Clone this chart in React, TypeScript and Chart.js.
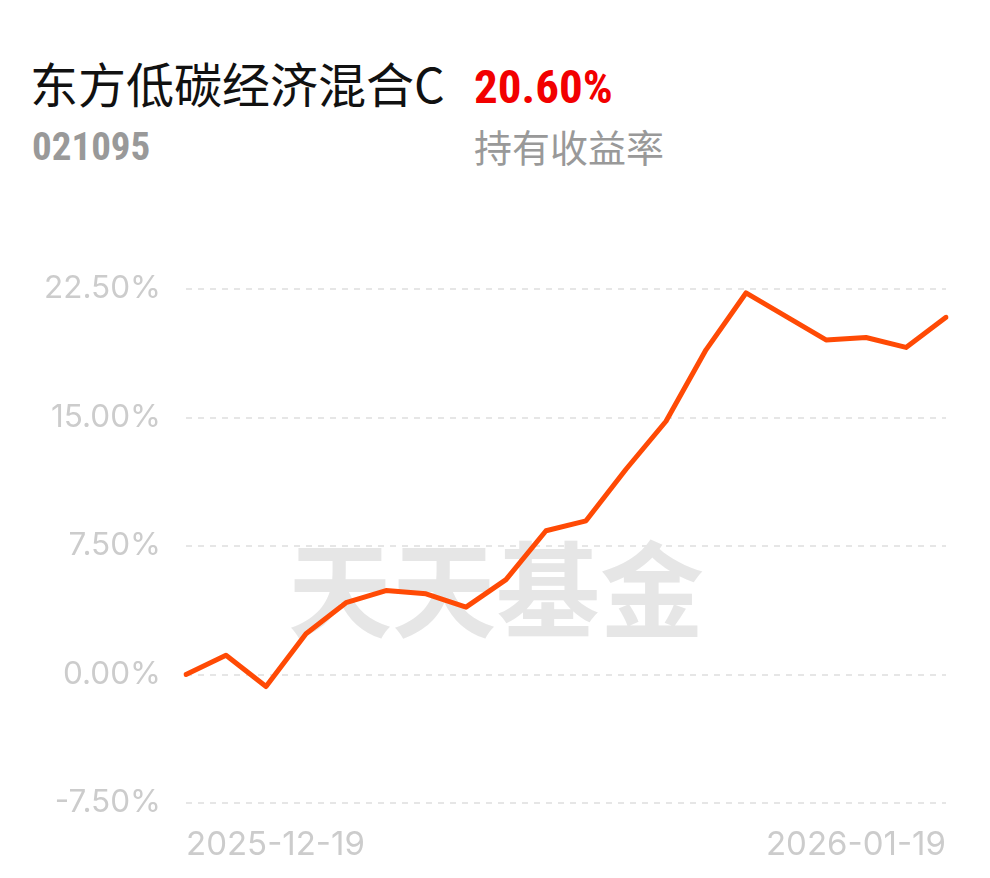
import React, { useEffect, useRef } from "react";
import { Chart, registerables } from "chart.js";

Chart.register(...registerables);

const fundName = "东方低碳经济混合C";
const fundCode = "021095";
const holdReturn = "20.60%";
const holdLabel = "持有收益率";
const watermarkText = "天天基金";

const dates = [
  "2025-12-19", "2025-12-22", "2025-12-23", "2025-12-24", "2025-12-25",
  "2025-12-26", "2025-12-29", "2025-12-30", "2025-12-31", "2026-01-05",
  "2026-01-06", "2026-01-07", "2026-01-08", "2026-01-09", "2026-01-12",
  "2026-01-13", "2026-01-14", "2026-01-15", "2026-01-16", "2026-01-19",
];

const returns = [
  0.0, 1.12, -0.7, 2.38, 4.19, 4.9, 4.71, 3.93, 5.54, 8.39,
  8.97, 11.98, 14.78, 18.95, 22.27, 20.9, 19.53, 19.67, 19.09, 20.85,
];

const yTicks = [-7.5, 0, 7.5, 15, 22.5];

export default function App() {
  const canvasRef = useRef<HTMLCanvasElement | null>(null);

  useEffect(() => {
    if (!canvasRef.current) return;
    const chart = new Chart(canvasRef.current, {
      type: "line",
      data: {
        labels: dates,
        datasets: [
          {
            data: returns,
            borderColor: "#ff4a05",
            borderWidth: 5,
            pointRadius: 0,
            pointHoverRadius: 0,
            tension: 0,
            borderCapStyle: "round",
            borderJoinStyle: "round",
            fill: false,
          },
        ],
      },
      options: {
        responsive: false,
        animation: false,
        events: [],
        layout: { padding: { left: 0, right: 44, top: 289, bottom: 0 } },
        plugins: {
          legend: { display: false },
          tooltip: { enabled: false },
          title: { display: false },
        },
        scales: {
          x: {
            type: "category",
            grid: { display: false, drawTicks: false },
            border: { display: false },
            ticks: {
              autoSkip: false,
              maxRotation: 0,
              minRotation: 0,
              align: "inner",
              padding: 22,
              color: "#cccccc",
              font: { family: "Inter", size: 33 },
              callback: (_v: any, i: number) =>
                i === 0 || i === dates.length - 1 ? dates[i] : "",
            },
            afterFit: (s: any) => {
              s.height = 75;
            },
          },
          y: {
            min: -7.5,
            max: 22.5,
            afterBuildTicks: (s: any) => {
              s.ticks = yTicks.map((v) => ({ value: v }));
            },
            grid: { color: "#e6e6e6", lineWidth: 2, drawTicks: false },
            border: { display: false, dash: [6, 6] },
            ticks: {
              padding: 25,
              color: "#cccccc",
              font: { family: "Inter", size: 31.5 },
              callback: (v: any) => Number(v).toFixed(2) + "%",
            },
            afterFit: (s: any) => {
              s.width = 186;
            },
          },
        },
      },
    });
    return () => chart.destroy();
  }, []);

  return (
    <div
      style={{
        position: "absolute",
        left: 0,
        top: 0,
        width: 990,
        height: 878,
        background: "#ffffff",
        overflow: "hidden",
      }}
    >
      <div
        style={{
          position: "absolute",
          left: 30,
          top: 57,
          fontFamily: "'Noto Sans CJK SC', sans-serif",
          fontSize: 48,
          lineHeight: "50px",
          color: "#111111",
          whiteSpace: "nowrap",
        }}
      >
        {fundName}
      </div>
      <div
        style={{
          position: "absolute",
          left: 474,
          top: 62,
          fontFamily: "'Liberation Sans Narrow', 'Roboto Condensed', Roboto, sans-serif",
          fontWeight: 700,
          fontSize: 47,
          lineHeight: "50px",
          color: "#f20000",
          whiteSpace: "nowrap",
        }}
      >
        {holdReturn}
      </div>
      <div
        style={{
          position: "absolute",
          left: 32,
          top: 124,
          fontFamily: "'Liberation Sans Narrow', 'Roboto Condensed', Roboto, sans-serif",
          fontWeight: 700,
          fontSize: 39,
          lineHeight: "46px",
          color: "#999999",
          whiteSpace: "nowrap",
        }}
      >
        {fundCode}
      </div>
      <div
        style={{
          position: "absolute",
          left: 474,
          top: 123,
          fontFamily: "'Noto Sans CJK SC', sans-serif",
          fontSize: 38,
          lineHeight: "46px",
          color: "#999999",
          whiteSpace: "nowrap",
        }}
      >
        {holdLabel}
      </div>
      <div
        style={{
          position: "absolute",
          left: 286,
          top: 530,
          width: 420,
          textAlign: "center",
          fontFamily: "'Noto Sans CJK SC', sans-serif",
          fontWeight: 700,
          fontSize: 104,
          lineHeight: "110px",
          color: "#e6e6e6",
          whiteSpace: "nowrap",
        }}
      >
        {watermarkText}
      </div>
      <canvas
        ref={canvasRef}
        width={990}
        height={878}
        style={{ position: "absolute", left: 0, top: 0, width: 990, height: 878 }}
      />
    </div>
  );
}
